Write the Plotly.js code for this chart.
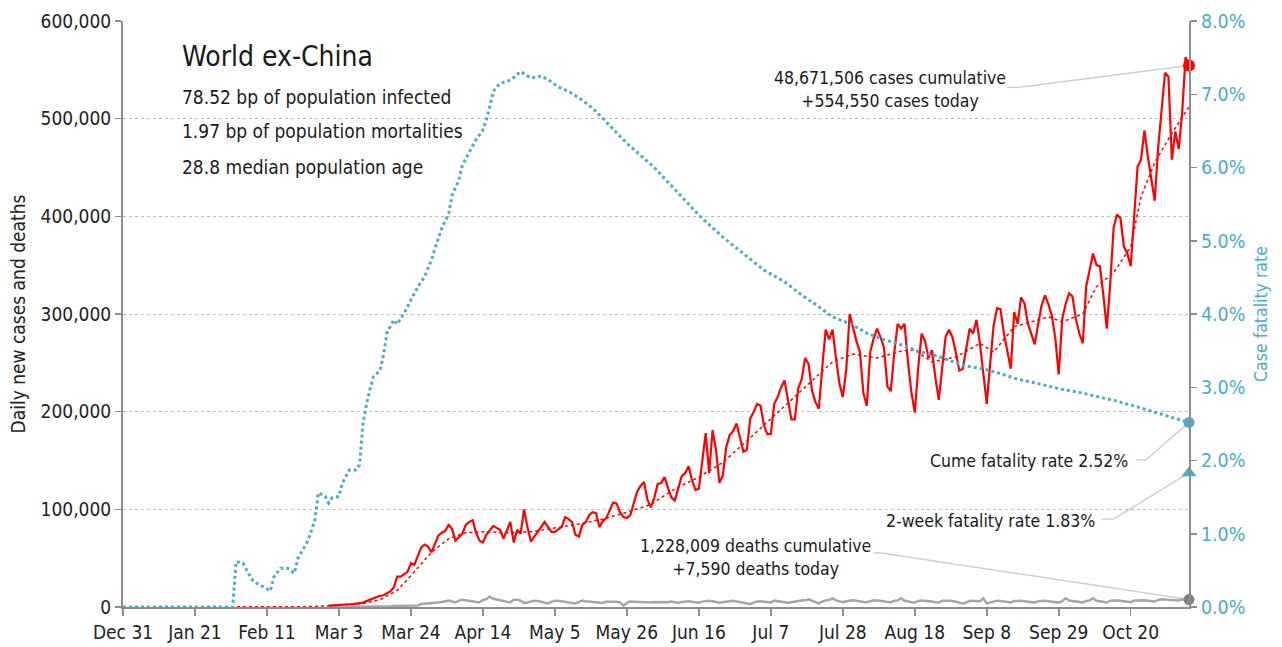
<!DOCTYPE html>
<html>
<head>
<meta charset="utf-8">
<script src="https://cdn.plot.ly/plotly-3.0.1.min.js"></script>
<style>
  body { margin: 0; background: #fff; }
  #chart { width: 1282px; height: 647px; }
</style>
</head>
<body>
<div id="chart"></div>
<script>
// daily series, one value per day starting Feb 29
var dailyStart = '2020-02-29';
var dailyCases = [
  1500, 1600, 1800, 2000, 2200, 2600, 2800, 3000, 3500, 3600,
  4500, 6000, 7500, 9000, 10500, 11500, 12000, 14000, 16000, 20000,
  31000, 31000, 34000, 36000, 45000, 43000, 52000, 61000, 64000, 62000,
  56000, 65000, 73000, 76000, 78000, 84000, 80000, 68000, 72000, 75000,
  84000, 87000, 89000, 76000, 68000, 66000, 74000, 79000, 83000, 81000,
  79000, 70000, 78000, 87000, 66000, 79000, 75000, 100000, 82000, 67000,
  72000, 77000, 82000, 87000, 82000, 77000, 77000, 80000, 82000, 92000,
  90000, 87000, 74000, 72000, 84000, 87000, 94000, 97000, 96000, 82000,
  88000, 91000, 100000, 107000, 106000, 97000, 92000, 91000, 94000, 105000,
  118000, 124000, 128000, 110000, 102000, 112000, 126000, 127000, 133000, 122000,
  112000, 109000, 122000, 134000, 137000, 144000, 130000, 120000, 121000, 150000,
  178000, 137000, 181000, 161000, 127000, 135000, 164000, 176000, 180000, 188000,
  172000, 159000, 161000, 193000, 200000, 208000, 206000, 186000, 177000, 177000,
  208000, 215000, 225000, 232000, 212000, 192000, 192000, 224000, 233000, 255000,
  249000, 222000, 210000, 203000, 245000, 284000, 274000, 284000, 255000, 229000,
  215000, 243000, 300000, 285000, 272000, 261000, 219000, 206000, 261000, 275000,
  285000, 276000, 266000, 226000, 221000, 260000, 290000, 285000, 290000, 251000,
  220000, 199000, 245000, 280000, 272000, 255000, 263000, 235000, 212000, 245000,
  277000, 284000, 276000, 260000, 242000, 244000, 265000, 285000, 280000, 294000,
  270000, 240000, 208000, 250000, 288000, 306000, 305000, 280000, 260000, 244000,
  302000, 290000, 317000, 311000, 290000, 280000, 269000, 290000, 309000, 319000,
  310000, 298000, 275000, 238000, 295000, 310000, 321000, 318000, 295000, 280000,
  270000, 328000, 345000, 362000, 350000, 349000, 320000, 285000, 330000, 388000,
  402000, 398000, 369000, 362000, 349000, 400000, 451000, 458000, 488000, 461000,
  440000, 416000, 470000, 506000, 547000, 543000, 458000, 487000, 469000, 506000,
  563000, 554550
];
var dailyDeaths = [
  10, 20, 20, 30, 40, 50, 60, 80, 100, 150,
  200, 250, 300, 350, 400, 450, 550, 650, 800, 1000,
  1100, 1300, 1400, 1400, 1500, 1500, 1600, 3000, 3200, 3300,
  3500, 3700, 4500, 5200, 5800, 6500, 5600, 4800, 6500, 7500,
  6800, 6500, 5800, 5200, 4800, 7000, 8000, 10600, 8500, 7600,
  6800, 6000, 5400, 4800, 7500, 7500, 6500, 4000, 4500, 5800,
  6500, 6200, 5500, 4800, 3700, 5200, 6500, 6500, 5800, 5400,
  4800, 4300, 3700, 5200, 6500, 5800, 5500, 5000, 4800, 4500,
  4200, 5500, 5600, 5500, 5300, 4700, 1400, 4200, 5500, 5400,
  5300, 5200, 4800, 4300, 4600, 5200, 4800, 5200, 5100, 4800,
  5500, 4500, 4200, 5200, 5600, 5800, 5400, 4800, 4400, 5500,
  6000, 6500, 5900, 5000, 4300, 4900, 5800, 6000, 6500, 5800,
  4800, 4200, 3500, 3000, 4500, 5700, 5900, 5400, 4600, 4700,
  6500, 6000, 5700, 5200, 4300, 4800, 5800, 6200, 6600, 6800,
  7800, 6200, 5000, 3700, 5500, 6800, 7200, 8900, 6800, 5500,
  4800, 5800, 6600, 6900, 6500, 6200, 5200, 4800, 6200, 6800,
  6700, 6500, 5900, 5000, 4900, 6300, 6600, 8900, 6400, 5800,
  4800, 4700, 6200, 6700, 6500, 6100, 5700, 4900, 4600, 6300,
  6700, 6500, 6200, 5700, 4500, 3700, 4600, 6300, 6400, 6200,
  5600, 8900, 3700, 4700, 6000, 6500, 6200, 5800, 5000, 4600,
  6200, 6500, 6300, 6000, 5500, 4700, 4500, 6000, 6500, 6300,
  6000, 5600, 4700, 4500, 6000, 8900, 6600, 6200, 5700, 4800,
  4600, 6200, 6600, 8900, 6400, 5800, 5000, 4600, 6400, 6900,
  6700, 6400, 6000, 5200, 5000, 6600, 6900, 7000, 6800, 6400,
  5800, 5600, 7200, 7800, 7600, 7300, 6800, 6200, 6600, 7600,
  7900, 7590
];

// 7-day average of new cases
var avgDates = ['2019-12-31', '2020-02-14', '2020-02-24', '2020-02-29', '2020-03-05',
  '2020-03-10', '2020-03-15', '2020-03-20', '2020-03-25', '2020-03-30', '2020-04-04',
  '2020-04-09', '2020-04-14', '2020-04-21', '2020-04-28', '2020-05-05', '2020-05-12',
  '2020-05-19', '2020-05-26', '2020-06-02', '2020-06-09', '2020-06-16', '2020-06-23',
  '2020-06-30', '2020-07-07', '2020-07-14', '2020-07-21', '2020-07-25', '2020-07-31',
  '2020-08-07', '2020-08-14', '2020-08-18', '2020-08-23', '2020-08-30', '2020-09-06',
  '2020-09-10', '2020-09-16', '2020-09-26', '2020-09-30', '2020-10-06', '2020-10-10',
  '2020-10-15', '2020-10-20', '2020-10-23', '2020-10-27', '2020-11-01', '2020-11-06'];
var avgCases = [0, 20, 400, 1200, 2200,
  3500, 7500, 17000, 36000, 56000, 70000,
  76000, 77000, 76000, 77000, 81000, 85000,
  90000, 97000, 105000, 121000, 133000, 148000,
  170000, 193000, 216000, 238000, 251000, 259000,
  255000, 262000, 263000, 251000, 256000, 270000,
  261000, 287000, 297000, 292000, 300000, 328000,
  342000, 369000, 420000, 455000, 485000, 512000];

// case fatality rate (right axis)
var cfrDates = ['2019-12-31', '2020-02-01', '2020-02-02', '2020-02-04', '2020-02-05',
  '2020-02-07', '2020-02-09', '2020-02-12', '2020-02-13', '2020-02-15', '2020-02-17',
  '2020-02-19', '2020-02-20', '2020-02-23', '2020-02-25', '2020-02-26', '2020-02-28',
  '2020-02-29', '2020-03-01', '2020-03-03', '2020-03-04', '2020-03-06', '2020-03-08',
  '2020-03-09', '2020-03-10', '2020-03-11', '2020-03-12', '2020-03-13', '2020-03-15',
  '2020-03-16', '2020-03-17', '2020-03-19', '2020-03-20', '2020-03-22', '2020-03-24',
  '2020-03-26', '2020-03-28', '2020-03-30', '2020-03-31', '2020-04-02', '2020-04-04',
  '2020-04-05', '2020-04-07', '2020-04-08', '2020-04-10', '2020-04-12', '2020-04-14',
  '2020-04-15', '2020-04-16', '2020-04-17', '2020-04-19', '2020-04-22', '2020-04-25',
  '2020-04-28', '2020-05-01', '2020-05-03', '2020-05-06', '2020-05-09', '2020-05-13',
  '2020-05-16', '2020-05-19', '2020-05-22', '2020-05-26', '2020-06-03', '2020-06-10',
  '2020-06-16', '2020-06-23', '2020-06-30', '2020-07-05', '2020-07-11', '2020-07-16',
  '2020-07-21', '2020-07-25', '2020-07-30', '2020-08-04', '2020-08-09', '2020-08-14',
  '2020-08-19', '2020-08-25', '2020-09-01', '2020-09-07', '2020-09-11', '2020-09-17',
  '2020-09-23', '2020-09-29', '2020-10-05', '2020-10-10', '2020-10-16', '2020-10-22',
  '2020-10-28', '2020-11-03', '2020-11-06'];
var cfrValues = [0, 0, 0.0062, 0.0060, 0.0051,
  0.0035, 0.0030, 0.0022, 0.0041, 0.0053, 0.0053,
  0.0046, 0.0066, 0.0091, 0.0119, 0.0156, 0.0151,
  0.0142, 0.0149, 0.0151, 0.0169, 0.0187, 0.0187,
  0.0194, 0.0250, 0.0276, 0.0296, 0.0314, 0.0323,
  0.0344, 0.0374, 0.0392, 0.0386, 0.0401, 0.0419,
  0.0437, 0.0451, 0.0474, 0.0489, 0.0517, 0.0537,
  0.0562, 0.0583, 0.0603, 0.0621, 0.0638, 0.0651,
  0.0665, 0.0683, 0.0704, 0.0715, 0.0719, 0.0731,
  0.0722, 0.0725, 0.0720, 0.0710, 0.0704, 0.0692,
  0.0681, 0.0667, 0.0653, 0.0633, 0.0600, 0.0565,
  0.0535, 0.0505, 0.0478, 0.0460, 0.0444, 0.0426,
  0.0410, 0.0396, 0.0387, 0.0374, 0.0365, 0.0358,
  0.0349, 0.0342, 0.0330, 0.0325, 0.0320, 0.0311,
  0.0305, 0.0298, 0.0293, 0.0288, 0.0281, 0.0273,
  0.0264, 0.0256, 0.0252];

// summary figures
var cumCases = 48671506;
var cumDeaths = 1228009;
var twoWeekCfr = 0.0183;
var statLines = ['78.52 bp of population infected', '1.97 bp of population mortalities', '28.8 median population age'];

var FONT = '"Liberation Sans Narrow", "DejaVu Sans Condensed", Roboto, sans-serif';
var RED = '#ff0000', BLUE = '#4bacc6', GREY = '#a6a6a6', LINE = '#8c8c8c';

function addDays(s, n) {
  var d = new Date(s + 'T00:00:00Z');
  d.setUTCDate(d.getUTCDate() + n);
  return d.toISOString().slice(0, 10);
}
var dailyDates = dailyCases.map(function (v, i) { return addDays(dailyStart, i); });

var lastDate = dailyDates[dailyDates.length - 1];
var casesToday = dailyCases[dailyCases.length - 1];
var deathsToday = dailyDeaths[dailyDeaths.length - 1];
var cumeCfr = cfrValues[cfrValues.length - 1];
function fmt(n) { return n.toLocaleString('en-US'); }
function pct(v) { return (v * 100).toFixed(2) + '%'; }

var traces = [
  {x: avgDates, y: avgCases, type: 'scatter', mode: 'lines',
   line: {color: RED, width: 1.5, dash: 'dot'}, hoverinfo: 'skip'},
  {x: dailyDates, y: dailyDeaths, type: 'scatter', mode: 'lines',
   line: {color: GREY, width: 2.5}},
  {x: dailyDates, y: dailyCases, type: 'scatter', mode: 'lines',
   line: {color: RED, width: 2.2}},
  {x: cfrDates, y: cfrValues, yaxis: 'y2', type: 'scatter', mode: 'lines',
   line: {color: BLUE, width: 3, dash: 'dot'}},
  // end markers
  {x: [lastDate], y: [casesToday], type: 'scatter', mode: 'markers', cliponaxis: false,
   marker: {color: RED, size: 12}},
  {x: [lastDate], y: [deathsToday], type: 'scatter', mode: 'markers', cliponaxis: false,
   marker: {color: '#808080', size: 11}},
  {x: [lastDate], y: [cumeCfr], yaxis: 'y2', type: 'scatter', mode: 'markers', cliponaxis: false,
   marker: {color: BLUE, size: 11}},
  {x: [lastDate], y: [twoWeekCfr], yaxis: 'y2', type: 'scatter', mode: 'markers', cliponaxis: false,
   marker: {color: BLUE, size: 13, symbol: 'triangle-up'}}
];

// leader lines from labels to the end markers
function leader(yref, x0, x1, yStart, yEnd) {
  var st = {color: '#cfcfcf', width: 1.5};
  return [
    {type: 'line', xref: 'x', yref: yref, x0: x0, x1: x1, y0: yStart, y1: yStart, line: st, layer: 'below'},
    {type: 'line', xref: 'x', yref: yref, x0: x1, x1: lastDate, y0: yStart, y1: yEnd, line: st, layer: 'below'}
  ];
}
var shapes = [].concat(
  leader('y', '2020-09-14', '2020-09-17', 532000, casesToday),
  leader('y2', '2020-10-21 14:00', '2020-10-24 12:00', 0.0201, cumeCfr),
  leader('y2', '2020-10-11 10:00', '2020-10-14 22:00', 0.0120, twoWeekCfr),
  leader('y', '2020-08-06', '2020-08-08 08:00', 55300, deathsToday)
);

function note(text, x, y, xanchor, size) {
  return {text: text, xref: 'paper', yref: 'paper', x: x, y: y, xanchor: xanchor, yanchor: 'middle',
    showarrow: false, align: xanchor === 'right' ? 'right' : (xanchor === 'left' ? 'left' : 'center'),
    font: {family: FONT, size: size || 17.5, color: '#1a1a1a'}};
}
var annotations = [
  note('World ex-China', 0.0535, 0.9386, 'left', 28),
  note(statLines[0], 0.0535, 0.8703, 'left', 19),
  note(statLines[1], 0.0535, 0.8123, 'left', 19),
  note(statLines[2], 0.0535, 0.7509, 'left', 19),
  note(fmt(cumCases) + ' cases cumulative<br>+' + fmt(casesToday) + ' cases today', 0.7195, 0.883, 'center'),
  note('Cume fatality rate ' + pct(cumeCfr), 0.9447, 0.2491, 'right'),
  note('2-week fatality rate ' + pct(twoWeekCfr), 0.9137, 0.1468, 'right'),
  note(fmt(cumDeaths) + ' deaths cumulative<br>+' + fmt(deathsToday) + ' deaths today', 0.5929, 0.0853, 'center')
];

var layout = {
  width: 1282, height: 647,
  margin: {l: 123, r: 93, t: 21, b: 40},
  paper_bgcolor: '#fff', plot_bgcolor: '#fff',
  showlegend: false,
  font: {family: FONT, size: 19, color: '#222'},
  xaxis: {
    type: 'date', range: ['2019-12-31', lastDate],
    tick0: '2019-12-31', dtick: 21 * 86400000, tickformat: '%b %-d',
    showline: true, linecolor: LINE, linewidth: 2,
    ticks: 'outside', ticklen: 7, tickcolor: LINE, tickwidth: 1.5,
    showgrid: false, zeroline: false, tickfont: {size: 19, color: '#222'}
  },
  yaxis: {
    range: [0, 600000], dtick: 100000, tickformat: ',d',
    showline: true, linecolor: LINE, linewidth: 2,
    ticks: 'outside', ticklen: 6, tickcolor: LINE, tickwidth: 1.5,
    showgrid: true, gridcolor: '#bdbdbd', griddash: 'dot', gridwidth: 1,
    zeroline: false, tickfont: {size: 19, color: '#222'},
    title: {text: 'Daily new cases and deaths', font: {size: 19, color: '#222'}, standoff: 10}
  },
  yaxis2: {
    overlaying: 'y', side: 'right', range: [0, 0.08], dtick: 0.01, tickformat: '.1%',
    showline: true, linecolor: LINE, linewidth: 2,
    ticks: 'outside', ticklen: 6, tickcolor: LINE, tickwidth: 1.5,
    showgrid: false, zeroline: false, tickfont: {size: 19.5, color: BLUE},
    title: {text: 'Case fatality rate', font: {size: 17.5, color: BLUE}, standoff: 10}
  },
  shapes: shapes,
  annotations: annotations
};

Plotly.newPlot('chart', traces, layout, {staticPlot: true});
</script>
</body>
</html>
